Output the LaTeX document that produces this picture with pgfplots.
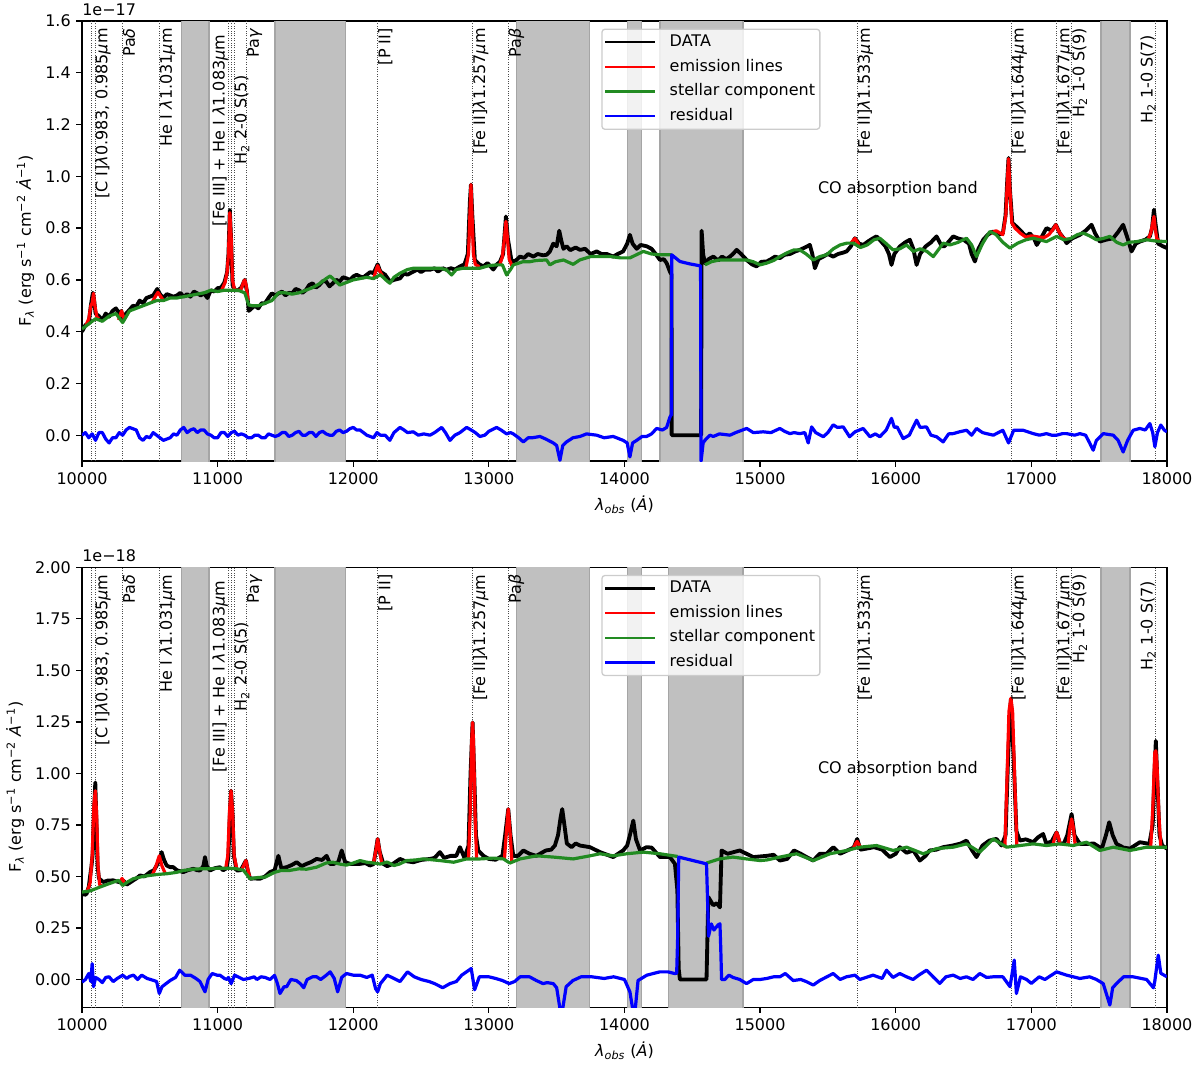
\documentclass[border=0pt]{standalone}
\usepackage{fontspec}
\setmainfont{DejaVu Sans}
\usepackage{pgfplots}
\pgfplotsset{compat=1.18}
\definecolor{mgreen}{RGB}{34,139,34}
\definecolor{mred}{RGB}{255,0,0}
\definecolor{mblue}{RGB}{0,0,255}
\definecolor{bandgray}{RGB}{192,192,192}
\definecolor{bandedge}{RGB}{165,165,165}
\tikzset{
  lab/.style={rotate=90, anchor=north east, inner sep=0pt, font=\normalsize, xshift=2.5pt},
  labl/.style={rotate=90, anchor=south east, inner sep=0pt, font=\normalsize, xshift=-1.5pt},
  vl/.style={black!70, line width=0.5pt, dash pattern=on 0.6pt off 0.9pt},
  band/.style={fill=bandgray, draw=bandedge, line width=0.9pt},
}
\pgfplotsset{
  specaxis/.style={
    scale only axis, width=678.1pt, height=275pt,
    xmin=10000, xmax=18000,
    xtick={10000,11000,...,18000},
    scaled x ticks=false,
    tick pos=left, tick align=outside, major tick length=3.5pt,
    every tick/.style={black, line width=0.8pt},
    axis line style={line width=0.8pt},
    /pgf/number format/assume math mode=true,
    xticklabel style={/pgf/number format/fixed, /pgf/number format/precision=0, /pgf/number format/set thousands separator={}},
    tick label style={font=\normalsize},
    xlabel={\textit{λ}\textsubscript{\textit{obs}} (\textit{Ȧ})},
    ylabel={F\textsubscript{\textit{λ}} (erg s\textsuperscript{−1} cm\textsuperscript{−2} \textit{Ȧ}\textsuperscript{−1})},
    legend cell align=left,
    legend image code/.code={\draw[##1, line width=1.4pt] (0pt,0pt) -- (31pt,0pt);},
    legend style={at={(0.4786,0.983)}, anchor=north west, draw=black!20, line width=0.8pt,
      rounded corners=2pt, fill=white, fill opacity=0.8, draw opacity=1, text opacity=1,
      font=\normalsize, inner xsep=1.5pt, inner ysep=2pt, row sep=3pt,
      nodes={inner sep=1.5pt, text height=7.3pt, text depth=2.1pt},
      /tikz/every odd column/.append style={column sep=7pt},
      /tikz/every even column/.append style={column sep=2pt}},
  },
  dat/.style={black, line width=2.4pt, line join=round},
  emi/.style={mred, line width=2pt, line join=round},
  ste/.style={mgreen, line width=2pt, line join=round},
  res/.style={mblue, line width=2pt, line join=round},
}
\newcommand{\vlines}{%
  \draw[vl] (axis cs:10071,-1) -- (axis cs:10071,3);
  \draw[vl] (axis cs:10096,-1) -- (axis cs:10096,3);
  \draw[vl] (axis cs:10300,-1) -- (axis cs:10300,3);
  \draw[vl] (axis cs:10570,-1) -- (axis cs:10570,3);
  \draw[vl] (axis cs:11079,-1) -- (axis cs:11079,3);
  \draw[vl] (axis cs:11099,-1) -- (axis cs:11099,3);
  \draw[vl] (axis cs:11121,-1) -- (axis cs:11121,3);
  \draw[vl] (axis cs:11215,-1) -- (axis cs:11215,3);
  \draw[vl] (axis cs:12181,-1) -- (axis cs:12181,3);
  \draw[vl] (axis cs:12881,-1) -- (axis cs:12881,3);
  \draw[vl] (axis cs:13144,-1) -- (axis cs:13144,3);
  \draw[vl] (axis cs:15718,-1) -- (axis cs:15718,3);
  \draw[vl] (axis cs:16851,-1) -- (axis cs:16851,3);
  \draw[vl] (axis cs:17188,-1) -- (axis cs:17188,3);
  \draw[vl] (axis cs:17299,-1) -- (axis cs:17299,3);
  \draw[vl] (axis cs:17918,-1) -- (axis cs:17918,3);
}
\newcommand{\linelabels}[2]{%
  \node[lab] at (axis cs:10096,#1) {[C I]\textit{λ}0.983, 0.985\textit{μ}m};
  \node[lab] at (axis cs:10300,#1) {Pa\textit{δ}};
  \node[lab] at (axis cs:10570,#1) {He I \textit{λ}1.031\textit{μ}m};
  \node[labl] at (axis cs:11079,#1) {[Fe III] + He I \textit{λ}1.083\textit{μ}m};
  \node[lab] at (axis cs:11121,#2) {H\textsubscript{2} 2-0 S(5)};
  \node[lab] at (axis cs:11215,#1) {Pa\textit{γ}};
  \node[lab] at (axis cs:12181,#1) {[P II]};
  \node[lab] at (axis cs:12881,#1) {[Fe II]\textit{λ}1.257\textit{μ}m};
  \node[lab] at (axis cs:13144,#1) {Pa\textit{β}};
  \node[lab] at (axis cs:15718,#1) {[Fe II]\textit{λ}1.533\textit{μ}m};
  \node[lab] at (axis cs:16851,#1) {[Fe II]\textit{λ}1.644\textit{μ}m};
  \node[lab] at (axis cs:17188,#1) {[Fe II]\textit{λ}1.677\textit{μ}m};
  \node[lab] at (axis cs:17299,#1) {H\textsubscript{2} 1-0 S(9)};
  \node[labl] at (axis cs:17918,#1) {H\textsubscript{2} 1-0 S(7)};
}
\begin{document}
\begin{tikzpicture}
\path[use as bounding box] (-51.25pt,-42.3pt) rectangle ++(750pt,671.875pt);
%%%%%%%%%%%%%%%%%%%%%%%% TOP PANEL
\begin{axis}[specaxis, name=top, at={(0pt,341.4pt)}, anchor=south west,
  ymin=-0.1, ymax=1.6, ytick={0,0.2,...,1.6},
  yticklabel style={/pgf/number format/fixed,/pgf/number format/precision=1,/pgf/number format/fixed zerofill}]
\fill[band] (axis cs:10735,-1) rectangle (axis cs:10937,3);
\fill[band] (axis cs:11423,-1) rectangle (axis cs:11945,3);
\fill[band] (axis cs:13205,-1) rectangle (axis cs:13741,3);
\fill[band] (axis cs:14021,-1) rectangle (axis cs:14127,3);
\fill[band] (axis cs:14263,-1) rectangle (axis cs:14873,3);
\fill[band] (axis cs:17515,-1) rectangle (axis cs:17729,3);
\vlines
\addplot[dat] coordinates {
(10000,0.40)(10025,0.425)(10050,0.432)(10065,0.50)(10080,0.55)(10090,0.52)(10100,0.47)(10125,0.46)(10150,0.445)(10175,0.47)
(10200,0.458)(10225,0.48)(10250,0.49)(10275,0.47)(10290,0.48)(10300,0.45)(10325,0.47)(10350,0.484)(10375,0.50)(10400,0.497)
(10425,0.52)(10450,0.51)(10475,0.53)(10500,0.535)(10525,0.54)(10555,0.565)(10575,0.545)(10600,0.53)(10625,0.545)(10650,0.54)
(10675,0.535)(10700,0.54)(10725,0.55)(10750,0.535)(10775,0.545)(10800,0.535)(10825,0.555)(10850,0.548)(10875,0.54)(10900,0.548)
(10925,0.53)(10950,0.56)(10975,0.555)(11000,0.568)(11025,0.57)(11050,0.59)(11070,0.63)(11080,0.70)(11090,0.87)(11100,0.75)
(11110,0.58)(11130,0.56)(11150,0.56)(11175,0.57)(11200,0.60)(11215,0.56)(11230,0.48)(11250,0.49)(11275,0.50)(11300,0.49)
(11325,0.51)(11350,0.51)(11375,0.53)(11400,0.548)(11425,0.54)(11450,0.548)(11475,0.555)(11500,0.54)(11525,0.55)(11550,0.548)
(11575,0.565)(11600,0.56)(11625,0.55)(11650,0.56)(11675,0.58)(11700,0.587)(11725,0.57)(11750,0.58)(11775,0.595)(11800,0.594)
(11825,0.575)(11850,0.587)(11875,0.60)(11900,0.594)(11925,0.61)(11950,0.606)(11975,0.60)(12000,0.613)(12025,0.62)(12050,0.613)
(12075,0.61)(12100,0.62)(12125,0.63)(12150,0.626)(12180,0.66)(12200,0.632)(12235,0.62)(12270,0.594)(12300,0.60)(12345,0.606)
(12375,0.625)(12400,0.62)(12443,0.632)(12475,0.64)(12500,0.63)(12530,0.64)(12566,0.639)(12600,0.645)(12625,0.632)(12660,0.645)
(12688,0.639)(12720,0.645)(12750,0.64)(12787,0.652)(12820,0.66)(12845,0.70)(12860,0.90)(12868,0.968)(12878,0.85)(12897,0.677)
(12930,0.66)(12959,0.652)(12990,0.665)(13033,0.64)(13060,0.66)(13082,0.67)(13105,0.70)(13126,0.845)(13140,0.76)(13168,0.67)
(13200,0.675)(13229,0.69)(13260,0.685)(13290,0.70)(13328,0.69)(13360,0.70)(13400,0.695)(13426,0.697)(13450,0.71)(13475,0.74)
(13500,0.73)(13519,0.79)(13535,0.75)(13550,0.72)(13573,0.73)(13600,0.715)(13640,0.725)(13672,0.716)(13710,0.72)(13750,0.70)
(13795,0.71)(13830,0.70)(13870,0.70)(13917,0.69)(13950,0.70)(13990,0.71)(14020,0.74)(14040,0.774)(14060,0.74)(14090,0.72)
(14120,0.735)(14163,0.73)(14200,0.72)(14230,0.70)(14262,0.677)(14290,0.68)(14311,0.665)(14335,0.632)(14347,0.62)(14348,0.0)
(14561,0.0)(14565,0.0)(14569,0.79)(14580,0.70)(14593,0.665)(14620,0.68)(14655,0.69)(14690,0.675)(14720,0.69)(14750,0.68)
(14778,0.69)(14800,0.70)(14827,0.716)(14860,0.70)(14901,0.677)(14940,0.66)(14974,0.652)(15010,0.67)(15048,0.671)(15080,0.68)
(15110,0.69)(15146,0.684)(15180,0.697)(15220,0.70)(15260,0.71)(15293,0.716)(15330,0.725)(15367,0.735)(15385,0.70)(15404,0.645)
(15430,0.68)(15466,0.69)(15500,0.70)(15539,0.69)(15575,0.70)(15610,0.705)(15638,0.71)(15670,0.73)(15699,0.761)(15730,0.74)
(15760,0.735)(15800,0.75)(15830,0.76)(15859,0.768)(15890,0.75)(15925,0.729)(15950,0.70)(15969,0.658)(15990,0.70)(16030,0.729)
(16070,0.745)(16104,0.755)(16130,0.72)(16154,0.658)(16180,0.70)(16220,0.729)(16260,0.745)(16301,0.768)(16340,0.73)(16360,0.73)
(16395,0.75)(16424,0.768)(16460,0.76)(16500,0.755)(16540,0.74)(16560,0.70)(16584,0.671)(16610,0.72)(16645,0.755)(16680,0.775)
(16719,0.787)(16760,0.775)(16790,0.78)(16810,0.85)(16822,0.98)(16832,1.071)(16842,0.95)(16860,0.82)(16890,0.806)(16930,0.785)
(16960,0.768)(16989,0.78)(17020,0.76)(17040,0.735)(17070,0.76)(17112,0.80)(17150,0.79)(17181,0.813)(17210,0.78)(17240,0.76)
(17260,0.742)(17300,0.76)(17358,0.774)(17400,0.79)(17444,0.813)(17470,0.78)(17505,0.748)(17550,0.755)(17604,0.761)(17640,0.785)
(17677,0.813)(17710,0.76)(17739,0.71)(17770,0.74)(17800,0.748)(17840,0.755)(17874,0.768)(17890,0.80)(17904,0.871)(17915,0.82)
(17935,0.74)(17970,0.73)(18000,0.723)};
\addlegendentry{DATA}
\addplot[emi] coordinates {(10030,0.425)(10050,0.45)(10065,0.50)(10075,0.51)(10085,0.548)(10095,0.50)(10110,0.455)(10125,0.45)};
\addlegendentry{emission lines}
\addplot[emi, forget plot] coordinates {(10270,0.445)(10285,0.47)(10292,0.48)(10300,0.465)(10315,0.445)};
\addplot[emi, forget plot] coordinates {(10520,0.515)(10545,0.54)(10560,0.552)(10575,0.54)(10600,0.52)};
\addplot[emi, forget plot] coordinates {(11030,0.56)(11055,0.59)(11070,0.63)(11080,0.70)(11090,0.86)(11100,0.76)(11110,0.60)(11125,0.56)(11170,0.56)(11190,0.59)(11200,0.60)(11210,0.58)(11225,0.52)};
\addplot[emi, forget plot] coordinates {(12150,0.605)(12170,0.64)(12180,0.655)(12195,0.635)(12215,0.615)};
\addplot[emi, forget plot] coordinates {(12830,0.645)(12850,0.70)(12860,0.85)(12868,0.968)(12876,0.85)(12886,0.70)(12900,0.66)(12930,0.65)};
\addplot[emi, forget plot] coordinates {(13080,0.658)(13100,0.69)(13115,0.76)(13126,0.826)(13137,0.76)(13150,0.68)(13170,0.655)};
\addplot[emi, forget plot] coordinates {(15670,0.742)(15690,0.755)(15700,0.76)(15712,0.75)(15730,0.735)};
\addplot[emi, forget plot] coordinates {(16700,0.78)(16740,0.79)(16790,0.775)(16812,0.85)(16822,0.97)(16832,1.068)(16842,0.95)(16856,0.82)(16880,0.80)(16920,0.78)(16960,0.765)(17000,0.77)(17060,0.765)(17100,0.765)(17130,0.775)(17160,0.795)(17181,0.813)(17200,0.79)(17230,0.765)(17260,0.755)};
\addplot[emi, forget plot] coordinates {(17860,0.755)(17880,0.78)(17895,0.82)(17904,0.845)(17913,0.80)(17925,0.76)(17940,0.752)};
\addplot[ste] coordinates {
(10000,0.41)(10050,0.43)(10100,0.45)(10150,0.44)(10200,0.46)(10250,0.47)(10300,0.435)(10350,0.48)(10400,0.49)(10450,0.50)
(10500,0.51)(10550,0.52)(10600,0.52)(10650,0.53)(10700,0.53)(10750,0.535)(10800,0.54)(10850,0.545)(10900,0.55)(10950,0.56)
(11000,0.555)(11050,0.56)(11100,0.56)(11150,0.56)(11200,0.55)(11230,0.503)(11260,0.50)(11300,0.50)(11350,0.51)(11400,0.52)
(11450,0.55)(11500,0.55)(11550,0.545)(11600,0.55)(11650,0.56)(11700,0.57)(11750,0.585)(11800,0.605)(11830,0.615)(11870,0.595)
(11900,0.58)(11950,0.59)(12000,0.60)(12050,0.605)(12100,0.61)(12150,0.605)(12200,0.62)(12240,0.60)(12270,0.587)(12300,0.61)
(12345,0.626)(12400,0.64)(12443,0.645)(12500,0.645)(12566,0.645)(12640,0.645)(12688,0.639)(12725,0.619)(12760,0.64)(12810,0.645)
(12860,0.645)(12934,0.645)(13000,0.655)(13057,0.658)(13100,0.658)(13131,0.619)(13160,0.64)(13180,0.658)(13250,0.67)(13300,0.67)
(13350,0.675)(13426,0.677)(13450,0.658)(13490,0.67)(13550,0.677)(13622,0.66)(13670,0.677)(13750,0.69)(13830,0.69)(13900,0.69)
(13970,0.685)(14040,0.685)(14100,0.70)(14139,0.71)(14200,0.70)(14260,0.697)(14311,0.697)(14347,0.697)};
\addlegendentry{stellar component}
\addplot[ste, forget plot] coordinates {
(14593,0.658)(14640,0.67)(14700,0.677)(14750,0.677)(14800,0.677)(14900,0.677)(14950,0.67)(15000,0.658)(15050,0.665)(15100,0.675)
(15146,0.69)(15200,0.705)(15250,0.716)(15292,0.716)(15340,0.70)(15392,0.677)(15440,0.69)(15490,0.697)(15540,0.72)(15590,0.735)
(15640,0.742)(15687,0.742)(15740,0.725)(15790,0.735)(15840,0.755)(15883,0.761)(15930,0.74)(15980,0.716)(16030,0.72)(16080,0.735)
(16130,0.71)(16180,0.72)(16230,0.71)(16277,0.69)(16320,0.72)(16350,0.742)(16400,0.735)(16460,0.745)(16522,0.761)(16560,0.735)
(16596,0.69)(16640,0.74)(16694,0.787)(16740,0.775)(16790,0.745)(16842,0.723)(16900,0.742)(16960,0.755)(17014,0.761)(17060,0.755)
(17112,0.748)(17186,0.768)(17240,0.755)(17290,0.76)(17340,0.775)(17382,0.781)(17430,0.77)(17480,0.755)(17530,0.76)(17579,0.768)
(17630,0.745)(17677,0.735)(17720,0.745)(17778,0.748)(17850,0.755)(17920,0.75)(18000,0.748)};
\addplot[res] coordinates {
(10000,0.0)(10025,0.01)(10050,-0.01)(10075,0.005)(10100,-0.02)(10125,0.01)(10150,0.01)(10175,-0.015)(10200,-0.03)(10225,-0.01)
(10250,-0.01)(10275,0.01)(10300,0.0)(10325,0.02)(10350,0.03)(10375,0.025)(10400,0.02)(10425,-0.01)(10450,-0.02)(10475,-0.005)
(10500,-0.01)(10525,0.01)(10550,0.0)(10575,-0.01)(10600,-0.02)(10625,-0.015)(10650,-0.01)(10675,0.005)(10700,0.0)(10725,0.02)
(10750,0.03)(10775,0.01)(10800,0.02)(10825,0.025)(10850,0.01)(10875,0.02)(10900,0.02)(10925,0.005)(10950,0.0)(10975,-0.01)
(11000,-0.01)(11025,0.01)(11050,0.01)(11075,-0.005)(11100,0.01)(11125,0.015)(11150,0.0)(11175,0.005)(11200,0.0)(11225,-0.01)
(11250,-0.01)(11275,0.0)(11300,0.0)(11325,-0.01)(11350,-0.01)(11375,0.005)(11400,0.0)(11425,-0.005)(11450,0.0)(11475,0.01)
(11500,0.01)(11525,-0.005)(11550,0.0)(11575,0.01)(11600,0.015)(11625,0.0)(11650,0.0)(11675,0.01)(11700,0.01)(11725,-0.005)
(11750,0.01)(11775,0.015)(11800,0.005)(11825,0.0)(11850,0.0)(11875,0.015)(11900,0.02)(11925,0.01)(11950,0.015)(11975,0.025)
(12000,0.03)(12025,0.02)(12050,0.02)(12075,0.01)(12100,0.0)(12125,-0.005)(12150,-0.01)(12175,0.01)(12200,0.0)(12235,0.0)
(12270,-0.02)(12300,0.01)(12345,0.03)(12375,0.02)(12400,0.01)(12443,0.013)(12480,0.0)(12520,0.005)(12566,0.0)(12600,0.01)
(12652,0.03)(12680,0.01)(12713,-0.02)(12750,0.0)(12787,0.01)(12836,0.03)(12870,0.02)(12900,0.01)(12934,-0.005)(12970,0.0)
(13000,0.015)(13057,0.03)(13090,0.02)(13131,0.005)(13160,0.01)(13180,0.005)(13220,-0.01)(13254,-0.026)(13290,-0.01)(13320,-0.01)
(13377,-0.005)(13420,-0.015)(13475,-0.03)(13500,-0.04)(13524,-0.097)(13545,-0.04)(13573,-0.026)(13620,-0.01)(13672,-0.005)(13720,0.005)
(13795,0.0)(13850,-0.01)(13917,-0.005)(13990,-0.02)(14020,-0.03)(14040,-0.084)(14060,-0.03)(14090,-0.02)(14130,-0.005)(14163,-0.005)
(14200,0.005)(14237,0.026)(14280,0.02)(14311,0.03)(14335,0.07)(14347,0.08)(14348,0.697)(14409,0.671)(14480,0.662)(14561,0.654)
(14565,-0.10)(14580,-0.03)(14593,-0.02)(14630,0.0)(14655,-0.005)(14700,0.005)(14778,0.0)(14820,0.01)(14901,0.026)(14950,0.01)
(15023,0.013)(15080,0.01)(15146,0.026)(15180,0.015)(15220,0.006)(15250,0.01)(15293,0.006)(15330,0.01)(15355,-0.03)(15380,0.032)
(15410,0.01)(15466,-0.006)(15500,0.01)(15539,0.04)(15570,0.03)(15613,0.032)(15660,-0.006)(15700,0.013)(15760,0.026)(15810,-0.006)
(15850,0.005)(15883,-0.006)(15930,0.02)(15969,0.065)(15990,0.03)(16010,0.032)(16055,-0.013)(16100,0.0)(16154,0.058)(16180,0.03)
(16227,0.032)(16260,0.0)(16301,-0.006)(16350,-0.026)(16390,0.005)(16424,0.006)(16470,0.013)(16522,0.019)(16560,0.0)(16596,0.026)
(16640,0.01)(16670,0.006)(16720,0.0)(16790,0.019)(16832,-0.03)(16870,0.019)(16940,0.019)(17014,0.006)(17060,0.0)(17112,0.006)
(17150,0.0)(17186,0.0)(17230,0.006)(17260,0.006)(17320,0.0)(17358,0.006)(17400,0.0)(17430,-0.03)(17456,-0.058)(17480,-0.02)
(17530,0.006)(17604,0.0)(17640,-0.02)(17677,-0.065)(17710,-0.02)(17751,0.019)(17800,0.026)(17840,0.02)(17874,0.045)(17895,0.01)
(17911,-0.045)(17930,0.01)(17955,0.039)(17980,0.02)(18000,0.013)};
\addlegendentry{residual}
\linelabels{1.5575}{1.375}
\node[anchor=west, inner sep=0pt, font=\normalsize] at (axis cs:15425,0.952) {CO absorption band};
\end{axis}
\node[anchor=south west, inner sep=0pt, font=\normalsize] at ([yshift=3pt]top.north west) {1e−17};
%%%%%%%%%%%%%%%%%%%%%%%% BOTTOM PANEL
\begin{axis}[specaxis, name=bot, at={(0pt,0pt)}, anchor=south west,
  ymin=-0.135, ymax=2.0, ytick={0,0.25,...,2.0},
  yticklabel style={/pgf/number format/fixed,/pgf/number format/precision=2,/pgf/number format/fixed zerofill}]
\fill[band] (axis cs:10735,-1) rectangle (axis cs:10937,3);
\fill[band] (axis cs:11423,-1) rectangle (axis cs:11945,3);
\fill[band] (axis cs:13205,-1) rectangle (axis cs:13741,3);
\fill[band] (axis cs:14021,-1) rectangle (axis cs:14127,3);
\fill[band] (axis cs:14324,-1) rectangle (axis cs:14873,3);
\fill[band] (axis cs:17515,-1) rectangle (axis cs:17729,3);
\vlines
\addplot[dat] coordinates {
(10000,0.424)(10020,0.41)(10034,0.416)(10050,0.45)(10059,0.497)(10070,0.55)(10079,0.61)(10088,0.80)(10098,0.956)(10107,0.75)
(10115,0.55)(10125,0.49)(10157,0.473)(10190,0.48)(10231,0.481)(10260,0.475)(10290,0.47)(10305,0.48)(10330,0.46)(10378,0.481)
(10400,0.49)(10428,0.505)(10460,0.50)(10501,0.521)(10530,0.53)(10551,0.553)(10570,0.58)(10587,0.618)(10605,0.58)(10624,0.553)
(10650,0.545)(10673,0.545)(10700,0.53)(10747,0.521)(10780,0.53)(10821,0.537)(10850,0.53)(10870,0.529)(10895,0.55)(10907,0.594)
(10920,0.55)(10944,0.529)(10980,0.54)(11017,0.545)(11040,0.53)(11067,0.54)(11080,0.60)(11090,0.80)(11099,0.916)(11110,0.80)
(11120,0.60)(11140,0.529)(11170,0.53)(11195,0.56)(11209,0.577)(11222,0.53)(11239,0.489)(11270,0.49)(11312,0.489)(11350,0.50)
(11386,0.521)(11420,0.53)(11448,0.60)(11470,0.54)(11509,0.545)(11545,0.555)(11583,0.569)(11620,0.55)(11656,0.561)(11690,0.57)
(11730,0.585)(11770,0.58)(11804,0.60)(11830,0.56)(11853,0.56)(11890,0.57)(11915,0.626)(11940,0.57)(11976,0.561)(12010,0.56)
(12050,0.561)(12090,0.565)(12123,0.553)(12150,0.56)(12170,0.64)(12180,0.682)(12195,0.62)(12222,0.561)(12250,0.55)(12290,0.56)
(12345,0.585)(12380,0.575)(12443,0.569)(12500,0.58)(12566,0.585)(12600,0.59)(12639,0.618)(12670,0.59)(12720,0.60)(12760,0.60)
(12787,0.642)(12820,0.59)(12850,0.65)(12865,1.0)(12880,1.247)(12892,1.0)(12905,0.70)(12922,0.626)(12960,0.60)(13000,0.585)
(13050,0.581)(13100,0.60)(13120,0.70)(13143,0.827)(13160,0.70)(13180,0.60)(13215,0.60)(13254,0.626)(13300,0.61)(13350,0.60)
(13420,0.626)(13460,0.63)(13487,0.65)(13510,0.70)(13530,0.79)(13541,0.827)(13555,0.76)(13575,0.66)(13610,0.642)(13640,0.66)
(13672,0.65)(13745,0.642)(13820,0.618)(13917,0.594)(13990,0.626)(14020,0.65)(14040,0.70)(14065,0.771)(14085,0.68)(14115,0.626)
(14163,0.642)(14200,0.64)(14262,0.594)(14335,0.594)(14372,0.561)(14390,0.432)(14400,0.05)(14409,0.0)(14605,0.0)(14618,0.40)
(14655,0.36)(14680,0.37)(14704,0.35)(14716,0.626)(14760,0.61)(14850,0.626)(14950,0.594)(15050,0.60)(15100,0.605)(15146,0.577)
(15200,0.585)(15250,0.626)(15300,0.61)(15340,0.595)(15392,0.577)(15440,0.61)(15490,0.61)(15540,0.642)(15590,0.61)(15640,0.625)
(15690,0.64)(15716,0.682)(15740,0.63)(15785,0.635)(15840,0.642)(15900,0.63)(15957,0.594)(16000,0.61)(16030,0.642)(16080,0.615)
(16130,0.626)(16178,0.577)(16220,0.60)(16250,0.626)(16300,0.63)(16350,0.642)(16420,0.65)(16480,0.66)(16522,0.674)(16560,0.63)
(16596,0.594)(16640,0.65)(16690,0.674)(16743,0.682)(16780,0.65)(16810,0.70)(16830,1.10)(16849,1.36)(16868,1.10)(16890,0.72)
(16915,0.674)(16960,0.68)(17014,0.666)(17050,0.69)(17087,0.706)(17110,0.66)(17150,0.67)(17186,0.714)(17210,0.66)(17240,0.66)
(17265,0.70)(17297,0.803)(17318,0.70)(17358,0.658)(17420,0.658)(17460,0.66)(17520,0.635)(17550,0.70)(17574,0.763)(17600,0.70)
(17628,0.658)(17680,0.64)(17727,0.635)(17800,0.666)(17870,0.658)(17895,0.75)(17908,1.0)(17918,1.158)(17930,0.95)(17945,0.70)
(17965,0.65)(18000,0.635)};
\addlegendentry{DATA}
\addplot[emi] coordinates {(10040,0.43)(10060,0.47)(10075,0.60)(10088,0.85)(10098,0.916)(10108,0.80)(10118,0.55)(10130,0.46)(10150,0.452)};
\addlegendentry{emission lines}
\addplot[emi, forget plot] coordinates {(10280,0.47)(10295,0.49)(10305,0.48)(10318,0.46)};
\addplot[emi, forget plot] coordinates {(10520,0.507)(10545,0.55)(10570,0.60)(10590,0.55)(10615,0.513)};
\addplot[emi, forget plot] coordinates {(11060,0.54)(11075,0.60)(11088,0.82)(11099,0.916)(11110,0.82)(11122,0.60)(11140,0.54)};
\addplot[emi, forget plot] coordinates {(11180,0.535)(11197,0.56)(11209,0.577)(11221,0.54)(11235,0.50)};
\addplot[emi, forget plot] coordinates {(12150,0.565)(12168,0.63)(12180,0.682)(12193,0.63)(12210,0.565)};
\addplot[emi, forget plot] coordinates {(12850,0.585)(12862,0.80)(12873,1.15)(12880,1.247)(12887,1.15)(12898,0.80)(12910,0.585)};
\addplot[emi, forget plot] coordinates {(13115,0.585)(13130,0.72)(13143,0.827)(13156,0.72)(13170,0.57)};
\addplot[emi, forget plot] coordinates {(15690,0.64)(15705,0.66)(15716,0.67)(15728,0.655)(15740,0.64)};
\addplot[emi, forget plot] coordinates {(16805,0.64)(16822,1.0)(16835,1.30)(16849,1.365)(16862,1.30)(16876,1.0)(16893,0.65)};
\addplot[emi, forget plot] coordinates {(17160,0.655)(17175,0.695)(17186,0.714)(17198,0.695)(17212,0.658)};
\addplot[emi, forget plot] coordinates {(17270,0.65)(17285,0.74)(17297,0.779)(17309,0.74)(17324,0.65)};
\addplot[emi, forget plot] coordinates {(17880,0.64)(17897,0.85)(17910,1.10)(17918,1.11)(17926,1.05)(17940,0.80)(17955,0.64)};
\addplot[ste] coordinates {
(10000,0.424)(10060,0.43)(10130,0.448)(10200,0.465)(10270,0.481)(10300,0.456)(10340,0.475)(10378,0.489)(10450,0.50)(10501,0.505)
(10560,0.51)(10624,0.513)(10700,0.52)(10747,0.529)(10820,0.535)(10870,0.537)(10940,0.537)(11000,0.54)(11090,0.54)(11140,0.537)
(11190,0.53)(11239,0.489)(11300,0.495)(11350,0.497)(11420,0.52)(11470,0.529)(11530,0.529)(11600,0.537)(11656,0.535)(11730,0.545)
(11800,0.565)(11850,0.569)(11900,0.56)(11950,0.555)(12000,0.565)(12050,0.577)(12100,0.569)(12150,0.565)(12200,0.56)(12250,0.57)
(12300,0.553)(12340,0.56)(12394,0.577)(12460,0.58)(12517,0.585)(12640,0.577)(12740,0.569)(12836,0.585)(12935,0.585)(13033,0.589)
(13107,0.585)(13155,0.565)(13230,0.585)(13352,0.60)(13475,0.594)(13622,0.585)(13745,0.60)(13819,0.61)(13917,0.60)(14016,0.61)
(14139,0.618)(14262,0.61)(14360,0.60)(14392,0.597)};
\addlegendentry{stellar component}
\addplot[ste, forget plot] coordinates {
(14605,0.565)(14700,0.585)(14800,0.594)(14900,0.585)(15000,0.577)(15050,0.58)(15146,0.594)(15269,0.61)(15392,0.577)(15515,0.61)
(15638,0.626)(15736,0.642)(15859,0.65)(15981,0.626)(16080,0.642)(16203,0.61)(16301,0.635)(16424,0.642)(16522,0.658)(16620,0.618)
(16719,0.682)(16818,0.642)(16916,0.65)(17014,0.658)(17112,0.65)(17210,0.658)(17309,0.65)(17407,0.666)(17505,0.626)(17604,0.642)
(17727,0.626)(17850,0.642)(18000,0.642)};
\addplot[res] coordinates {
(10000,-0.013)(10025,0.0)(10050,0.029)(10065,-0.01)(10075,0.077)(10085,-0.035)(10100,0.01)(10125,0.0)(10150,-0.015)(10175,0.01)
(10200,0.013)(10230,-0.01)(10260,0.005)(10300,0.021)(10330,0.005)(10350,0.015)(10380,0.021)(10410,0.0)(10440,0.021)(10480,0.005)
(10530,-0.005)(10550,-0.01)(10570,-0.068)(10590,-0.035)(10620,-0.02)(10650,-0.005)(10690,0.01)(10720,0.045)(10760,0.02)(10800,0.021)
(10840,0.005)(10870,-0.01)(10907,-0.06)(10930,0.0)(10960,0.029)(11000,0.02)(11017,0.021)(11050,0.005)(11070,0.0)(11080,0.01)
(11100,-0.02)(11125,0.021)(11150,0.013)(11190,0.0)(11230,0.005)(11270,0.013)(11290,0.0)(11320,0.013)(11350,0.01)(11386,0.0)
(11420,0.02)(11441,-0.02)(11460,-0.068)(11490,-0.035)(11509,-0.035)(11540,0.0)(11580,-0.005)(11610,-0.02)(11635,-0.04)(11660,0.0)
(11700,0.013)(11730,0.013)(11760,0.0)(11800,0.02)(11830,0.037)(11860,0.005)(11885,-0.06)(11915,0.01)(11950,0.029)(12000,0.021)
(12050,0.021)(12100,0.01)(12140,0.021)(12165,-0.045)(12180,-0.06)(12200,-0.02)(12225,0.0)(12250,0.021)(12300,0.005)(12345,-0.01)
(12400,0.037)(12450,0.013)(12500,0.0)(12560,-0.01)(12600,-0.02)(12660,-0.04)(12713,-0.02)(12760,-0.01)(12800,0.021)(12870,0.053)
(12895,-0.05)(12930,0.013)(13000,0.013)(13050,0.005)(13100,-0.005)(13150,-0.02)(13190,-0.01)(13230,0.013)(13300,0.013)(13350,-0.005)
(13400,-0.02)(13430,-0.015)(13475,-0.02)(13500,-0.04)(13524,-0.14)(13545,-0.14)(13570,-0.035)(13620,-0.005)(13680,0.013)(13760,0.013)
(13850,0.005)(13920,0.013)(14000,0.0)(14040,-0.06)(14060,-0.14)(14080,-0.14)(14100,-0.005)(14165,0.021)(14260,0.037)(14320,0.037)
(14370,0.029)(14385,0.03)(14392,0.2)(14400,0.594)(14605,0.561)(14612,0.40)(14620,0.21)(14640,0.27)(14660,0.24)(14690,0.265)
(14704,0.27)(14710,0.15)(14716,0.0)(14740,0.0)(14770,0.021)(14800,0.01)(14850,0.0)(14900,-0.02)(14950,0.0)(15000,0.0)
(15050,0.005)(15100,0.013)(15146,0.013)(15186,0.029)(15244,-0.005)(15300,0.0)(15340,-0.01)(15392,-0.027)(15440,-0.005)(15539,0.029)
(15590,0.0)(15637,0.013)(15700,0.021)(15735,0.0)(15833,0.021)(15900,0.005)(15932,0.045)(15980,0.01)(16030,0.029)(16080,0.013)
(16128,0.0)(16170,0.021)(16227,0.045)(16280,0.01)(16325,-0.019)(16370,0.013)(16424,0.021)(16475,0.005)(16522,0.013)(16570,0.0)
(16620,0.029)(16670,0.01)(16719,0.013)(16790,0.013)(16843,-0.035)(16874,0.094)(16890,-0.068)(16920,0.013)(16965,0.0)(17000,-0.019)
(17058,0.013)(17100,0.0)(17186,0.037)(17260,0.021)(17358,0.005)(17430,0.013)(17480,0.0)(17530,-0.02)(17579,-0.124)(17600,-0.04)
(17628,-0.02)(17680,0.013)(17750,0.013)(17810,0.005)(17850,0.0)(17900,-0.04)(17910,-0.01)(17936,0.118)(17955,0.03)(18000,0.013)};
\addlegendentry{residual}
\linelabels{1.9466}{1.717}
\node[anchor=west, inner sep=0pt, font=\normalsize] at (axis cs:15425,1.022) {CO absorption band};
\end{axis}
\node[anchor=south west, inner sep=0pt, font=\normalsize] at ([yshift=3pt]bot.north west) {1e−18};
\end{tikzpicture}
\end{document}
